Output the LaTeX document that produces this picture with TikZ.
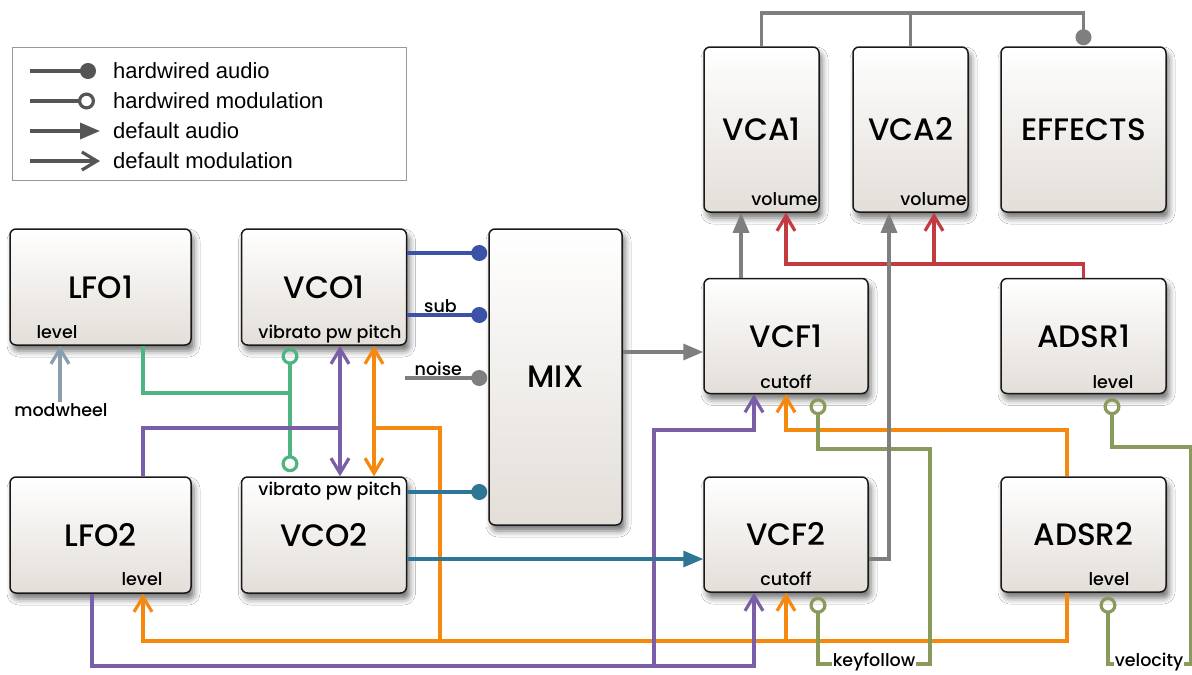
\documentclass[tikz,border=0pt]{standalone}
\usepackage{fontspec}
\setmainfont{Liberation Sans}
\newfontfamily\boxfont{Poppins Medium}
\usetikzlibrary{arrows.meta,calc,shadows.blur}

\definecolor{wireblue}{HTML}{3C52A8}
\definecolor{wireteal}{HTML}{2E7596}
\definecolor{wiregray}{HTML}{7F7F7F}
\definecolor{wiregreen}{HTML}{4DB482}
\definecolor{wirepurple}{HTML}{7B5EA8}
\definecolor{wireorange}{HTML}{F5890F}
\definecolor{wirered}{HTML}{C23B41}
\definecolor{wireolive}{HTML}{8A9A5B}
\definecolor{wiresteel}{HTML}{8C9DB0}
\definecolor{legendgray}{HTML}{555555}
\definecolor{boxbottom}{HTML}{E3DED8}

\tikzset{
  module/.style={draw=black!90, line width=1.5pt, rounded corners=6pt,
    top color=white, bottom color=boxbottom,
    blur shadow={shadow xshift=3pt, shadow yshift=-6pt, shadow blur radius=6pt, shadow opacity=55},
    font=\boxfont\fontsize{31}{31}\selectfont, inner sep=0pt},
  port/.style={font=\boxfont\fontsize{17.5}{17.5}\selectfont, inner sep=1pt, text=black},
  legendtext/.style={font=\fontsize{22}{22}\selectfont, inner sep=0pt, anchor=west},
  wire/.style={line width=3.2pt},
  hwaudio/.style={wire, -{Circle[length=16pt]}, shorten >=1pt},
  hwmod/.style={wire, -{Circle[open, length=17pt]}, shorten >=4pt},
  hwmodboth/.style={wire, {Circle[open, length=17pt]}-{Circle[open, length=17pt]}, shorten <=2pt, shorten >=4pt},
  audio/.style={wire, -{Triangle[length=20pt, width=16pt]}},
  mod/.style={wire, -{Straight Barb[length=15pt, width=18pt]}},
  modboth/.style={wire, {Straight Barb[length=15pt, width=18pt]}-{Straight Barb[length=15pt, width=18pt]}},
}

\begin{document}
\begin{tikzpicture}[x=1pt, y=-1pt]
  \useasboundingbox[fill=white] (0,0) rectangle (1192,675);

  % ===== legend =====
  \node[draw=black!40, line width=1pt, minimum width=394pt, minimum height=133pt, inner sep=0pt] (legend) at (209,113.5) {};
  \node[legendtext] (lgha) at (113,71) {hardwired audio};
  \node[legendtext] (lghm) at (113,101) {hardwired modulation};
  \node[legendtext] (lgda) at (113,131) {default audio};
  \node[legendtext] (lgdm) at (113,161) {default modulation};
  \draw[hwaudio, legendgray, shorten >=0pt] ([xshift=-83pt]lgha.west) -- ([xshift=-17pt]lgha.west);
  \draw[hwmod, legendgray, shorten >=0pt] ([xshift=-83pt]lghm.west) -- ([xshift=-18pt]lghm.west);
  \draw[audio, legendgray] ([xshift=-83pt]lgda.west) -- ([xshift=-13pt]lgda.west);
  \draw[mod, legendgray] ([xshift=-83pt]lgdm.west) -- ([xshift=-13pt]lgdm.west);

  % ===== modules =====
  \node[module, minimum width=181pt, minimum height=116pt] (lfo1) at (100.5,287) {LFO1};
  \node[module, minimum width=165pt, minimum height=116pt] (vco1) at (324,287) {VCO1};
  \node[module, minimum width=181pt, minimum height=116pt] (lfo2) at (100.5,535) {LFO2};
  \node[module, minimum width=165pt, minimum height=116pt] (vco2) at (324,535) {VCO2};
  \node[module, minimum width=133pt, minimum height=296pt] (mix) at (555.5,377) {MIX};
  \node[module, minimum width=164pt, minimum height=115pt] (vcf1) at (786,336) {VCF1};
  \node[module, minimum width=164pt, minimum height=115pt] (vcf2) at (786,534.5) {VCF2};
  \node[module, minimum width=115pt, minimum height=165pt] (vca1) at (761.5,129.5) {VCA1};
  \node[module, minimum width=115pt, minimum height=165pt] (vca2) at (910.5,129.5) {VCA2};
  \node[module, minimum width=165pt, minimum height=165pt] (effects) at (1083.5,129.5) {EFFECTS};
  \node[module, minimum width=165pt, minimum height=115pt] (adsr1) at (1083.5,336) {ADSR1};
  \node[module, minimum width=165pt, minimum height=115pt] (adsr2) at (1083.5,534.5) {ADSR2};

  % ports
  \node[port, anchor=base] (lfo1level) at ([shift={(-43.5pt,7pt)}]lfo1.south) {level};
  \node[port, anchor=base] (vco1ports) at ([shift={(6pt,7pt)}]vco1.south) {vibrato pw pitch};
  \node[port, anchor=base] (vco2ports) at ([shift={(6pt,-19pt)}]vco2.north) {vibrato pw pitch};
  \node[port, anchor=base] (lfo2level) at ([shift={(41.5pt,8pt)}]lfo2.south) {level};
  \node[port, anchor=base] (vcf1cut) at ([yshift=6pt]vcf1.south) {cutoff};
  \node[port, anchor=base] (vcf2cut) at ([yshift=7pt]vcf2.south) {cutoff};
  \node[port, anchor=base] (vca1vollbl) at ([shift={(23pt,7pt)}]vca1.south) {volume};
  \node[port, anchor=base] (vca2vollbl) at ([shift={(23pt,7pt)}]vca2.south) {volume};
  \node[port, anchor=base] (adsr1level) at ([shift={(29.5pt,6pt)}]adsr1.south) {level};
  \node[port, anchor=base] (adsr2level) at ([shift={(25.5pt,7pt)}]adsr2.south) {level};

  % outside sources
  \node[port] (modwheel) at (61,410) {modwheel};
  \node[port, anchor=mid] (keyfollow) at (874,664) {keyfollow};
  \node[port, anchor=mid] (velocity) at (1149,664) {velocity};

  % ===== port coordinates =====
  \coordinate (vco1out) at ([yshift=34pt]vco1.east);
  \coordinate (vco1sub) at ([yshift=-28pt]vco1.east);
  \coordinate (noisein) at (405,378);
  \coordinate (vco1vib) at ([xshift=-34pt]vco1.south);
  \coordinate (vco1pw) at ([xshift=16pt]vco1.south);
  \coordinate (vco1pitch) at ([xshift=50pt]vco1.south);
  \coordinate (vco2vib) at ([xshift=-34pt]vco2.north);
  \coordinate (vco2pw) at ([xshift=16pt]vco2.north);
  \coordinate (vco2pitch) at ([xshift=50pt]vco2.north);
  \coordinate (vco2out) at ([yshift=43pt]vco2.east);
  \coordinate (vco2filt) at ([yshift=-24pt]vco2.east);
  \coordinate (vcf1in) at ([yshift=-16pt]vcf1.west);
  \coordinate (vcf1out) at ([xshift=-45pt]vcf1.north);
  \coordinate (vcf1lfo) at ([xshift=-32pt]vcf1.south);
  \coordinate (vcf1env) at (vcf1.south);
  \coordinate (vcf1key) at ([xshift=32pt]vcf1.south);
  \coordinate (vcf2in) at ([yshift=-24.5pt]vcf2.west);
  \coordinate (vcf2out) at ([yshift=-24.5pt]vcf2.east);
  \coordinate (vcf2lfo) at ([xshift=-32pt]vcf2.south);
  \coordinate (vcf2env) at (vcf2.south);
  \coordinate (vcf2key) at ([xshift=32pt]vcf2.south);
  \coordinate (vca1a) at ([xshift=-20.5pt]vca1.south);
  \coordinate (vca1vol) at ([xshift=24.5pt]vca1.south);
  \coordinate (vca2a) at ([xshift=-21.5pt]vca2.south);
  \coordinate (vca2vol) at ([xshift=23.5pt]vca2.south);
  \coordinate (adsr1vel) at ([xshift=28.5pt]adsr1.south);
  \coordinate (adsr2out) at ([xshift=-16.5pt]adsr2.north);
  \coordinate (adsr2low) at ([xshift=-16.5pt]adsr2.south);
  \coordinate (adsr2vel) at ([xshift=24.5pt]adsr2.south);
  \coordinate (lfo1out) at ([xshift=42.5pt]lfo1.south);
  \coordinate (lfo1lvl) at ([xshift=-40.5pt]lfo1.south);
  \coordinate (lfo2up) at ([xshift=42.5pt]lfo2.north);
  \coordinate (lfo2lvl) at ([xshift=42.5pt]lfo2.south);
  \coordinate (lfo2down) at ([xshift=-8.5pt]lfo2.south);

  % junctions
  \coordinate (fxbus) at (1083.5,13);
  \coordinate (volbus) at (786,264);
  \coordinate (vibbus) at (290,393);
  \coordinate (pwbus) at (340,428);
  \coordinate (pitchbus) at (440,428);
  \coordinate (envbus) at (786,641);
  \coordinate (envtop) at (786,430);
  \coordinate (lfobus) at (754,666);
  \coordinate (lfotop) at (654,430);
  \coordinate (keybus) at (930,449);
  \coordinate (velbus) at (1191,447);

  % ===== modulation =====
  \draw[mod, wiresteel] (lfo1lvl |- modwheel.north) -- (lfo1lvl);
  \draw[wire, wiregreen] (lfo1out) |- (vibbus);
  \draw[hwmodboth, wiregreen] (vco1vib) -- (vco2vib);
  \draw[wire, wirepurple] (lfo2up) |- (pwbus);
  \draw[modboth, wirepurple] (vco1pw) -- (vco2pw);
  \draw[modboth, wireorange] (vco1pitch) -- (vco2pitch);
  \draw[wire, wireorange] (vco1pitch |- pitchbus) -- (pitchbus) -- (pitchbus |- envbus);
  \draw[mod, wireorange] (adsr2low) |- (lfo2lvl |- envbus) -- (lfo2lvl);
  \draw[mod, wireorange] (envbus) -- (vcf2env);
  \draw[mod, wireorange] (adsr2out) |- (envtop) -- (vcf1env);
  \draw[mod, wirepurple] (lfo2down) |- (lfobus) -- (vcf2lfo);
  \draw[mod, wirepurple] (lfotop |- lfobus) -- (lfotop) -| (vcf1lfo);
  \draw[hwmod, wireolive] (keyfollow.mid east) -| (keybus) -| (vcf1key);
  \draw[hwmod, wireolive] (keyfollow.mid west) -| (vcf2key);
  \draw[hwmod, wireolive] (velocity.mid east) -| (velbus) -| (adsr1vel);
  \draw[hwmod, wireolive] (velocity.mid west) -| (adsr2vel);
  \draw[mod, wirered] (adsr1.north) |- (volbus) -- (vca1vol);
  \draw[mod, wirered] (vca2vol |- volbus) -- (vca2vol);

  % ===== audio =====
  \draw[hwaudio, wireblue] (vco1out) -- (vco1out -| mix.west);
  \draw[hwaudio, wireblue] (vco1sub) -- (vco1sub -| mix.west) node[port, pos=.41, above] (sub) {sub};
  \draw[hwaudio, wiregray] (noisein) -- (noisein -| mix.west) node[port, pos=.4, above] (noise) {noise};
  \draw[hwaudio, wireteal] (vco2out) -- (vco2out -| mix.west);
  \draw[audio, wireteal] (vco2filt) -- (vcf2in);
  \draw[audio, wiregray] (vcf1in -| mix.east) -- (vcf1in);
  \draw[audio, wiregray] (vcf1out) -- (vca1a);
  \draw[audio, wiregray] (vcf2out) -| (vca2a);
  \draw[hwaudio, wiregray] (vca1.north) |- (fxbus) -- (effects.north);
  \draw[wire, wiregray] (vca2.north) -- (vca2.north |- fxbus);
\end{tikzpicture}
\end{document}
